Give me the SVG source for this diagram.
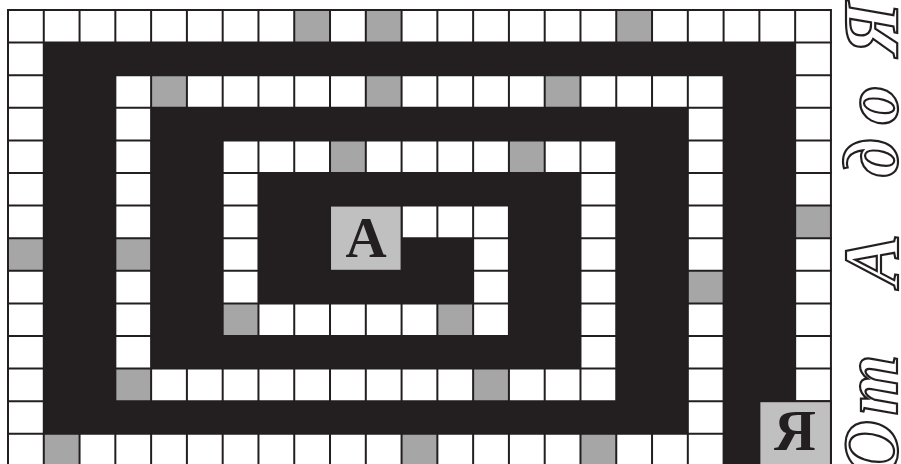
<svg xmlns="http://www.w3.org/2000/svg" width="901" height="464" viewBox="0 0 901 464">
<style>
.bg{fill:#ffffff}
.gray{fill:#a6a6a6}
.wall{fill:#231f20}
.ln{stroke:#231f20;stroke-width:2;fill:none}
.cell{fill:#c0c0c0;stroke:#231f20;stroke-width:2}
.lbl{font-family:"Liberation Serif","Times New Roman",serif;font-weight:bold;fill:#231f20;text-anchor:middle}
.title{font-family:"Liberation Serif","Times New Roman",serif;font-style:italic;font-weight:bold;font-size:78px;fill:#ffffff;stroke:#231f20;stroke-width:2.2;text-anchor:middle}
</style>
<rect x="0" y="0" width="901" height="464" fill="#ffffff"/>
<g id="grid-bg">
<rect class="bg" x="8" y="10" width="822.94" height="456"/>
</g>
<g id="gray-cells" class="gray">
<rect x="294.24" y="10" width="35.78" height="32.6"/>
<rect x="365.8" y="10" width="35.78" height="32.6"/>
<rect x="616.26" y="10" width="35.78" height="32.6"/>
<rect x="151.12" y="75.2" width="35.78" height="32.6"/>
<rect x="365.8" y="75.2" width="35.78" height="32.6"/>
<rect x="544.7" y="75.2" width="35.78" height="32.6"/>
<rect x="330.02" y="140.4" width="35.78" height="32.6"/>
<rect x="508.92" y="140.4" width="35.78" height="32.6"/>
<rect x="795.16" y="205.6" width="35.78" height="32.6"/>
<rect x="8" y="238.2" width="35.78" height="32.6"/>
<rect x="115.34" y="238.2" width="35.78" height="32.6"/>
<rect x="687.82" y="270.8" width="35.78" height="32.6"/>
<rect x="222.68" y="303.4" width="35.78" height="32.6"/>
<rect x="437.36" y="303.4" width="35.78" height="32.6"/>
<rect x="115.34" y="368.6" width="35.78" height="32.6"/>
<rect x="473.14" y="368.6" width="35.78" height="32.6"/>
<rect x="43.78" y="433.8" width="35.78" height="32.6"/>
<rect x="401.58" y="433.8" width="35.78" height="32.6"/>
<rect x="580.48" y="433.8" width="35.78" height="32.6"/>
</g>
<g id="grid-lines" class="ln">
<path d="M8 10V466M43.78 10V466M79.56 10V466M115.34 10V466M151.12 10V466M186.9 10V466M222.68 10V466M258.46 10V466M294.24 10V466M330.02 10V466M365.8 10V466M401.58 10V466M437.36 10V466M473.14 10V466M508.92 10V466M544.7 10V466M580.48 10V466M616.26 10V466M652.04 10V466M687.82 10V466M723.6 10V466M759.38 10V466M795.16 10V466M830.94 10V466"/>
<path d="M7 10H831.94M7 42.6H831.94M7 75.2H831.94M7 107.8H831.94M7 140.4H831.94M7 173H831.94M7 205.6H831.94M7 238.2H831.94M7 270.8H831.94M7 303.4H831.94M7 336H831.94M7 368.6H831.94M7 401.2H831.94M7 433.8H831.94"/>
</g>
<g id="walls" class="wall">
<rect x="43.78" y="42.6" width="751.38" height="32.6"/>
<rect x="43.78" y="42.6" width="71.56" height="391.2"/>
<rect x="43.78" y="401.2" width="644.04" height="32.6"/>
<rect x="723.6" y="42.6" width="71.56" height="358.6"/>
<rect x="723.6" y="401.2" width="35.78" height="65.2"/>
<rect x="151.12" y="107.8" width="536.7" height="32.6"/>
<rect x="616.26" y="107.8" width="71.56" height="326"/>
<rect x="151.12" y="107.8" width="71.56" height="260.8"/>
<rect x="151.12" y="336" width="429.36" height="32.6"/>
<rect x="258.46" y="173" width="322.02" height="32.6"/>
<rect x="508.92" y="173" width="71.56" height="195.6"/>
<rect x="258.46" y="173" width="71.56" height="130.4"/>
<rect x="258.46" y="270.8" width="214.68" height="32.6"/>
<rect x="401.58" y="238.2" width="71.56" height="65.2"/>
</g>
<g id="start">
<rect class="cell" x="330.02" y="205.6" width="71.56" height="65.2"/>
<text class="lbl" x="366" y="257" font-size="57">A</text>
</g>
<g id="finish">
<rect class="cell" x="759.38" y="401.2" width="71.56" height="65.2"/>
<text class="lbl" x="795" y="450" font-size="58">Я</text>
</g>
<g id="title">
<text class="title" transform="translate(897,0) rotate(-90)" x="-448 -385 -322 -260 -208 -158 -105 -66 -29" y="0">От А до Я</text>
</g>
</svg>
